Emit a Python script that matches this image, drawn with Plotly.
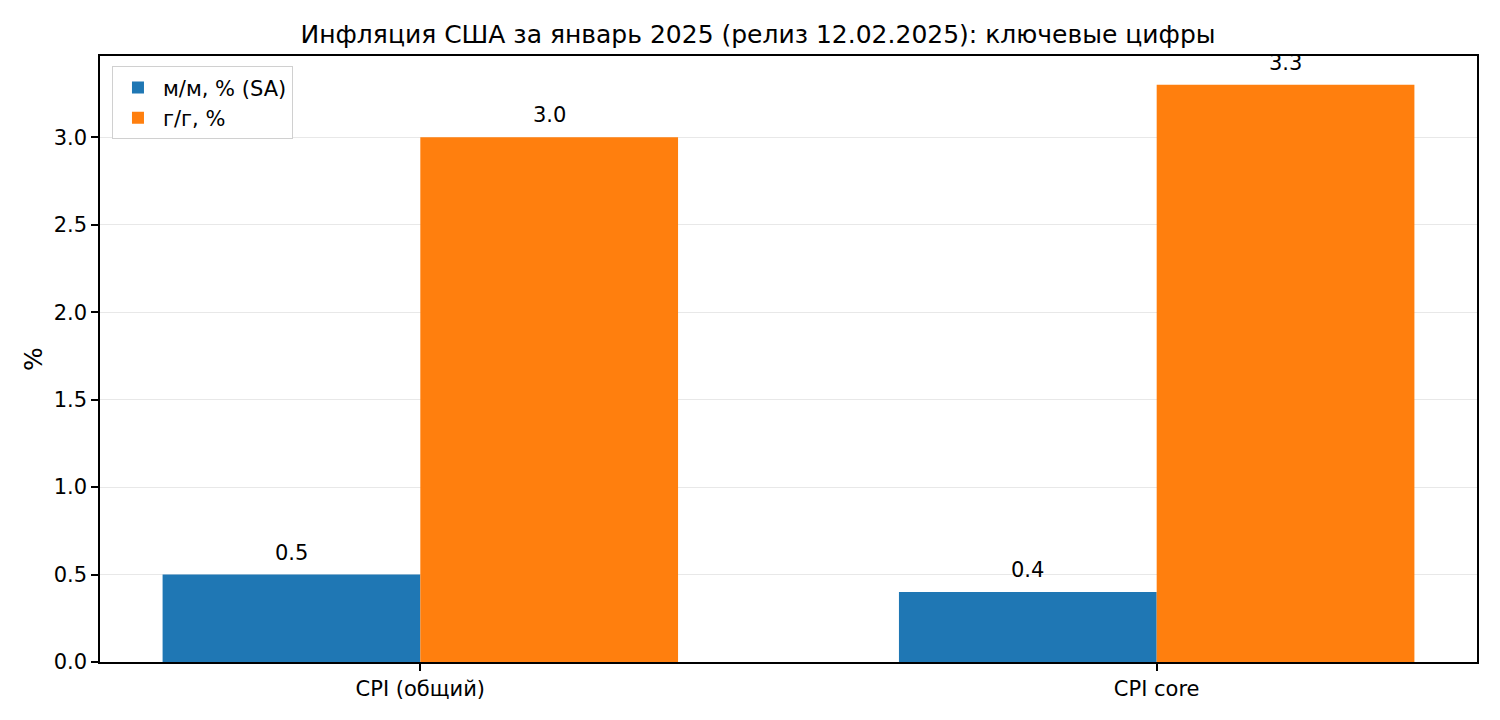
import plotly.graph_objects as go

categories = ["CPI (общий)", "CPI core"]
mom_values = [0.5, 0.4]
yoy_values = [3.0, 3.3]
series_names = ["м/м, % (SA)", "г/г, %"]
title = "Инфляция США за январь 2025 (релиз 12.02.2025): ключевые цифры"

width = 0.35
xpos = list(range(len(categories)))

fig = go.Figure()
for vals, name, color, off in [
    (mom_values, series_names[0], "#1f77b4", -width),
    (yoy_values, series_names[1], "#ff7f0e", 0.0),
]:
    fig.add_trace(go.Bar(
        x=xpos, y=vals, name=name, width=width, offset=off,
        marker=dict(color=color, line=dict(width=0)),
    ))
    # value labels above each bar
    for xi, v in zip(xpos, vals):
        fig.add_annotation(
            x=xi + off + width / 2, y=v, text=f"{v:.1f}",
            showarrow=False, yanchor="bottom", yshift=8,
            font=dict(size=21, color="black"),
        )

fig.update_layout(
    width=1500, height=720,
    barmode="overlay",
    paper_bgcolor="white", plot_bgcolor="white",
    font=dict(family="DejaVu Sans", size=21, color="black"),
    margin=dict(l=92, r=31, t=48, b=66),
    title=dict(text=title, x=0.5, xanchor="center", y=0.964, yanchor="middle",
               font=dict(size=25)),
    legend=dict(x=0.0087, y=0.983, xanchor="left", yanchor="top",
                bordercolor="#d0d0d0", borderwidth=1, bgcolor="white",
                itemwidth=40, font=dict(size=21)),
)
fig.update_xaxes(
    range=[-0.435, 1.435], tickvals=xpos, ticktext=categories,
    showline=True, linecolor="black", linewidth=1.5, mirror=True,
    ticks="outside", ticklen=7, tickcolor="black", tickwidth=1.5,
    showgrid=False, zeroline=False,
)
fig.update_yaxes(
    range=[0, 3.465], dtick=0.5, tickformat=".1f",
    showline=True, linecolor="black", linewidth=1.5, mirror=True,
    ticks="outside", ticklen=7, tickcolor="black", tickwidth=1.5,
    showgrid=True, gridcolor="#e8e8e8", gridwidth=1.2, zeroline=False,
    title=dict(text="%", standoff=4),
)

fig.write_html("out.html")
